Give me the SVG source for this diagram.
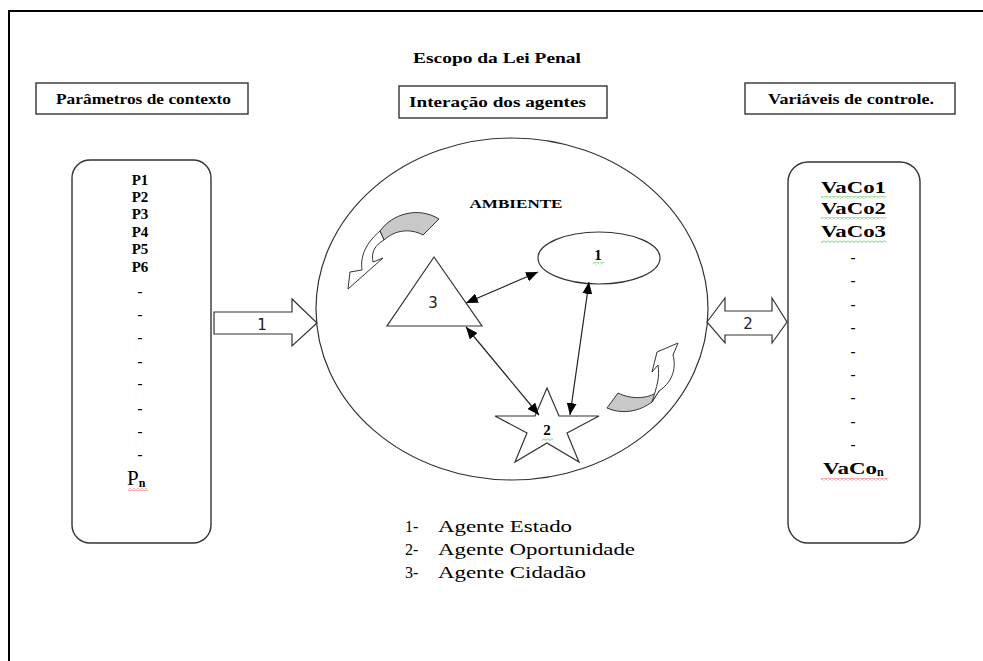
<svg xmlns="http://www.w3.org/2000/svg" width="983" height="661" viewBox="0 0 983 661">
  <defs>
    <style>
      .frame { fill: none; stroke: #000; stroke-width: 2; }
      .box { fill: #fff; stroke: #333; stroke-width: 1.4; }
      .shape { fill: #fff; stroke: #333; stroke-width: 1.2; }
      .link { fill: none; stroke: #222; stroke-width: 1.2; }
      .band { fill: #c8c8c8; stroke: #333; stroke-width: 1; }
      .curl { fill: #fff; stroke: #333; stroke-width: 1; }
      .hdr { font-family: "Liberation Serif", "Times New Roman", serif; font-weight: bold; font-size: 15px; fill: #000; }
      .item { font-family: "Liberation Serif", "Times New Roman", serif; font-weight: bold; font-size: 15px; fill: #000; text-anchor: middle; }
      .var { font-family: "Liberation Serif", "Times New Roman", serif; font-weight: bold; font-size: 17px; fill: #000; }
      .num { font-family: "DejaVu Sans", Verdana, sans-serif; font-size: 15px; fill: #222; text-anchor: middle; }
      .legend { font-family: "Liberation Serif", "Times New Roman", serif; font-size: 16px; fill: #000; }
    </style>
    <pattern id="wavyGreen" width="4" height="3" patternUnits="userSpaceOnUse">
      <path d="M0,0.5 L2,2.5 L4,0.5" fill="none" stroke="#3cb83c" stroke-width="0.8"/>
    </pattern>
    <pattern id="wavyRed" width="4" height="3" patternUnits="userSpaceOnUse">
      <path d="M0,0.5 L2,2.5 L4,0.5" fill="none" stroke="#e03030" stroke-width="0.8"/>
    </pattern>
    <marker id="head" viewBox="0 0 12 10" refX="12" refY="5" markerWidth="12" markerHeight="10" markerUnits="userSpaceOnUse" orient="auto-start-reverse">
      <path d="M0,0 L12,5 L0,10 Z" fill="#000"/>
    </marker>
  </defs>

  <!-- page border -->
  <path class="frame" d="M9,661 V11 H983"/>

  <!-- title -->
  <text class="hdr" x="497" y="63" text-anchor="middle" textLength="168" lengthAdjust="spacingAndGlyphs">Escopo da Lei Penal</text>

  <!-- column headers -->
  <g id="hdr-parametros">
    <rect class="box" x="36" y="83" width="212" height="31"/>
    <text class="hdr" x="56" y="104" textLength="175" lengthAdjust="spacingAndGlyphs">Parâmetros de contexto</text>
  </g>
  <g id="hdr-interacao">
    <rect class="box" x="399" y="86" width="208" height="32"/>
    <text class="hdr" x="409" y="107" textLength="177" lengthAdjust="spacingAndGlyphs">Interação dos agentes</text>
  </g>
  <g id="hdr-variaveis">
    <rect class="box" x="745" y="83" width="210" height="31"/>
    <text class="hdr" x="768" y="104" textLength="166" lengthAdjust="spacingAndGlyphs">Variáveis de controle.</text>
  </g>

  <!-- context parameters -->
  <g id="parametros">
    <rect class="box" x="72" y="160" width="139" height="383" rx="18"/>
    <text class="item" x="140" y="185">P1</text>
    <text class="item" x="140" y="202">P2</text>
    <text class="item" x="140" y="219">P3</text>
    <text class="item" x="140" y="237">P4</text>
    <text class="item" x="140" y="254">P5</text>
    <text class="item" x="140" y="272">P6</text>
    <text class="item" x="140" y="296">-</text>
    <text class="item" x="140" y="319">-</text>
    <text class="item" x="140" y="342">-</text>
    <text class="item" x="140" y="366">-</text>
    <text class="item" x="140" y="388">-</text>
    <text class="item" x="140" y="413">-</text>
    <text class="item" x="140" y="436">-</text>
    <text class="item" x="140" y="459">-</text>
    <text x="127" y="485" font-family="Liberation Serif, serif" font-size="21" fill="#000">P<tspan font-size="12" font-weight="bold" dy="2">n</tspan></text>
    <rect x="128" y="488" width="20" height="3" fill="url(#wavyRed)"/>
  </g>

  <!-- control variables -->
  <g id="variaveis">
    <rect class="box" x="788" y="162" width="132" height="381" rx="20"/>
    <text class="var" x="821" y="193" textLength="65" lengthAdjust="spacingAndGlyphs">VaCo1</text>
    <rect x="821" y="196" width="65" height="3" fill="url(#wavyGreen)"/>
    <text class="var" x="821" y="214" textLength="65" lengthAdjust="spacingAndGlyphs">VaCo2</text>
    <rect x="821" y="217" width="65" height="3" fill="url(#wavyGreen)"/>
    <text class="var" x="821" y="237" textLength="65" lengthAdjust="spacingAndGlyphs">VaCo3</text>
    <rect x="821" y="240" width="65" height="3" fill="url(#wavyGreen)"/>
    <text class="item" x="853" y="262">-</text>
    <text class="item" x="853" y="285">-</text>
    <text class="item" x="853" y="309">-</text>
    <text class="item" x="853" y="332">-</text>
    <text class="item" x="853" y="356">-</text>
    <text class="item" x="853" y="379">-</text>
    <text class="item" x="853" y="402">-</text>
    <text class="item" x="853" y="426">-</text>
    <text class="item" x="853" y="449">-</text>
    <text class="var" x="823" y="474"><tspan textLength="54" lengthAdjust="spacingAndGlyphs">VaCo</tspan><tspan font-size="12" dy="2">n</tspan></text>
    <rect x="821" y="478" width="67" height="3" fill="url(#wavyRed)"/>
  </g>

  <!-- environment -->
  <g id="ambiente">
    <ellipse class="shape" cx="512" cy="309" rx="196" ry="171"/>
    <text x="516" y="208" text-anchor="middle" font-family="Liberation Serif, serif" font-weight="bold" font-size="13" fill="#000" textLength="93" lengthAdjust="spacingAndGlyphs">AMBIENTE</text>
  </g>

  <!-- agents -->
  <g id="agente-estado">
    <ellipse class="shape" cx="599" cy="258" rx="61" ry="26"/>
    <text x="598" y="260" text-anchor="middle" font-family="Liberation Serif, serif" font-weight="bold" font-size="15" fill="#000">1</text>
    <rect x="593" y="262" width="11" height="3" fill="url(#wavyGreen)"/>
  </g>
  <g id="agente-cidadao">
    <polygon class="shape" points="434,257 482,326 387,326"/>
    <text class="num" x="433" y="308">3</text>
  </g>
  <g id="agente-oportunidade">
    <polygon class="shape" points="547,388 559,416 599,416 567,433 579,462 547,443 515,462 527,433 495,416 535,416"/>
    <text x="547" y="435" text-anchor="middle" font-family="Liberation Serif, serif" font-weight="bold" font-size="15" fill="#000">2</text>
    <rect x="542" y="438" width="11" height="3" fill="url(#wavyGreen)"/>
  </g>

  <!-- rotating environment arrows -->
  <g id="giro-esquerdo">
    <path class="band" d="M380,231 C392,214 418,206 439,219 L423,235 C410,228 395,230 384,240 Z"/>
    <path class="curl" d="M380,231 C366,243 360,256 362,270 L350,272 L348,289 L383,258 L373,262 C371,252 375,245 384,240 Z"/>
  </g>
  <g id="giro-direito">
    <path class="band" d="M607,408 L618,393 C630,399 647,400 659,391 L652,402 C640,411 623,415 607,408 Z"/>
    <path class="curl" d="M659,391 C671,383 677,370 673,355 L678,343 L657,352 L652,372 L658,365 C660,377 657,386 652,402 Z"/>
  </g>

  <!-- connectors -->
  <g id="conectores">
    <path class="link" d="M466,303 L538,272" marker-start="url(#head)" marker-end="url(#head)"/>
    <path class="link" d="M466,327 L539,415" marker-start="url(#head)" marker-end="url(#head)"/>
    <path class="link" d="M589,282 L570,415" marker-start="url(#head)" marker-end="url(#head)"/>
    <path class="shape" d="M214,312 H292 V299 L317,323 L292,346 V334 H214 Z"/>
    <text class="num" x="262" y="330">1</text>
    <path class="shape" d="M707,322 L725,298 V311 H772 V298 L787,322 L772,343 V335 H725 V343 Z"/>
    <text class="num" x="748" y="329">2</text>
  </g>

  <!-- legend -->
  <g id="legenda">
    <text class="legend" x="405" y="532">1-</text>
    <text class="legend" x="438" y="532" textLength="134" lengthAdjust="spacingAndGlyphs">Agente Estado</text>
    <text class="legend" x="405" y="555">2-</text>
    <text class="legend" x="438" y="555" textLength="197" lengthAdjust="spacingAndGlyphs">Agente Oportunidade</text>
    <text class="legend" x="405" y="578">3-</text>
    <text class="legend" x="438" y="578" textLength="148" lengthAdjust="spacingAndGlyphs">Agente Cidadão</text>
  </g>
</svg>
